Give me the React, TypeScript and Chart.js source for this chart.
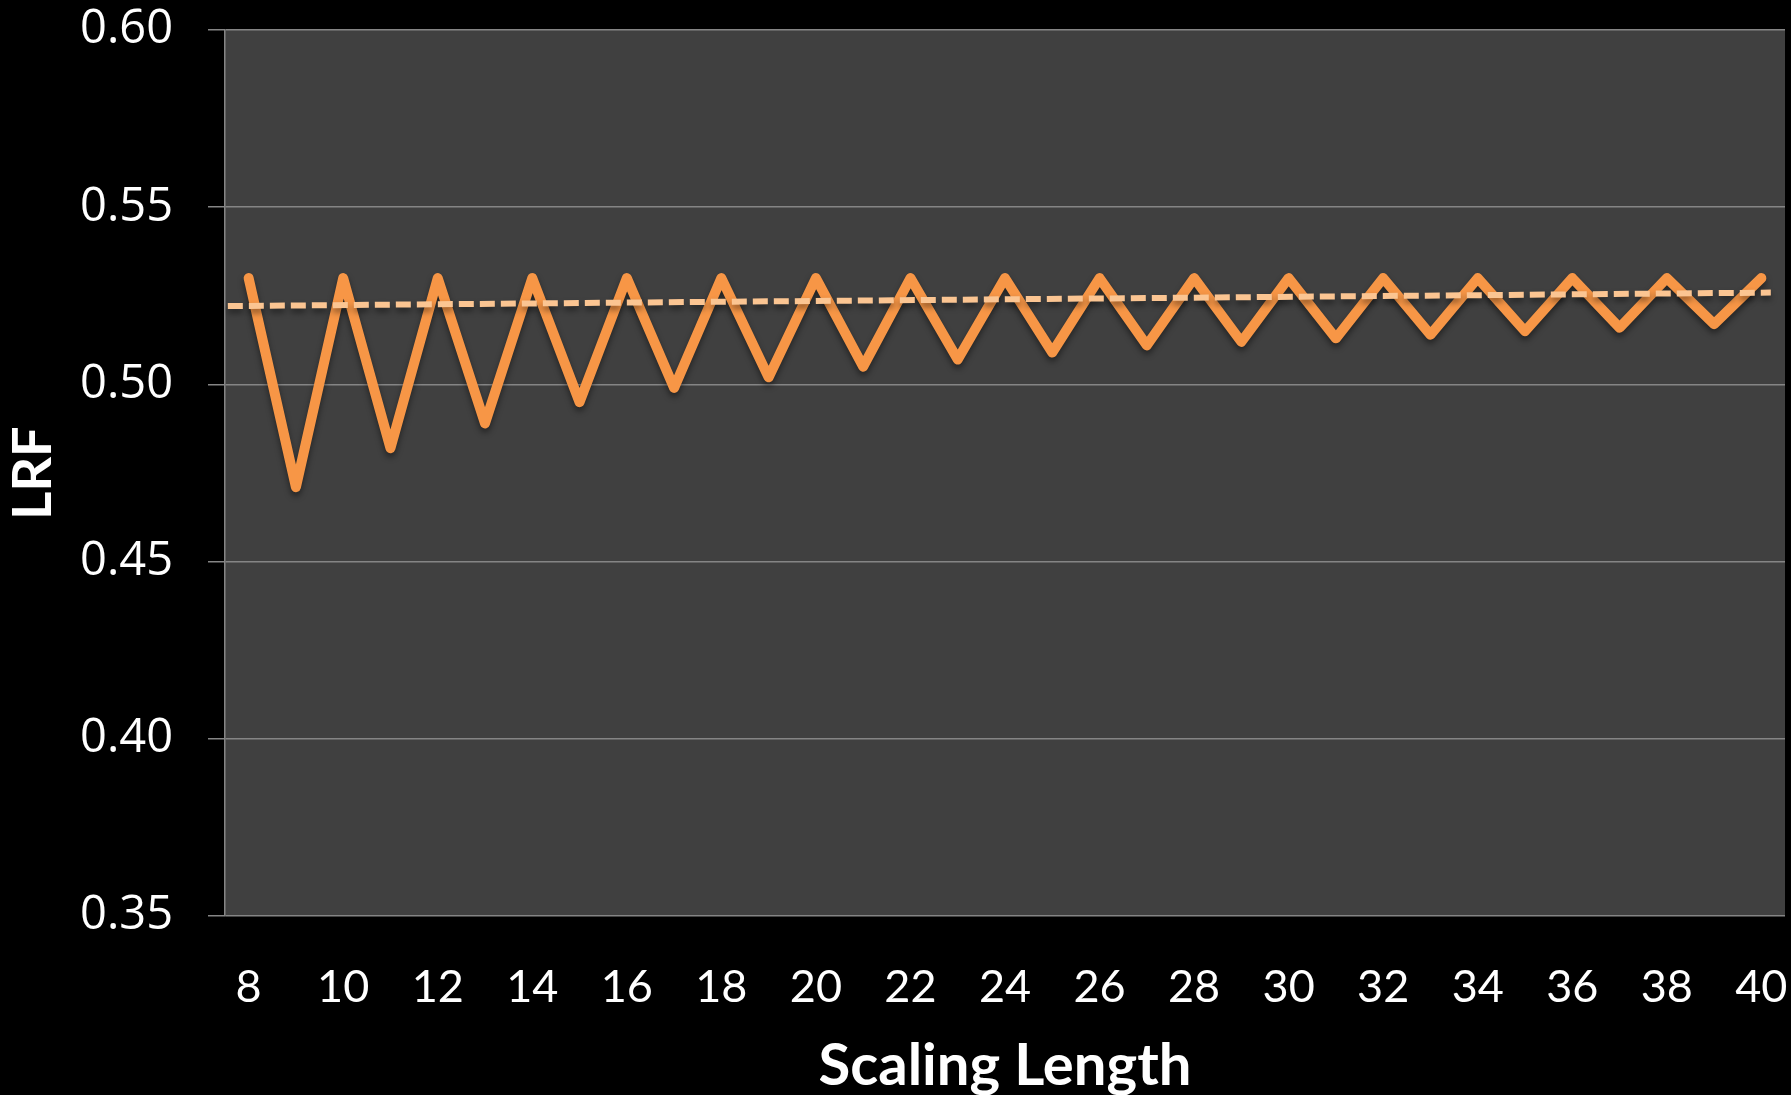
import React, { useEffect, useRef } from "react";
import { Chart, registerables } from "chart.js";

Chart.register(...registerables);

const scalingLengths = [8, 9, 10, 11, 12, 13, 14, 15, 16, 17, 18, 19, 20, 21, 22, 23, 24, 25, 26, 27, 28, 29, 30, 31, 32, 33, 34, 35, 36, 37, 38, 39, 40];
const lrfValues = [
  0.530, 0.471, 0.530, 0.482, 0.530, 0.489, 0.530, 0.495, 0.530, 0.499,
  0.530, 0.502, 0.530, 0.505, 0.530, 0.507, 0.530, 0.509, 0.530, 0.511,
  0.530, 0.512, 0.530, 0.513, 0.530, 0.514, 0.530, 0.515, 0.530, 0.516,
  0.530, 0.517, 0.530,
];
const trendX = [7.56, 40.2];
const trendY = [0.5221, 0.5259];
const xTickValues = [8, 10, 12, 14, 16, 18, 20, 22, 24, 26, 28, 30, 32, 34, 36, 38, 40];
const yTickValues = [0.35, 0.4, 0.45, 0.5, 0.55, 0.6];

const plotBg = {
  id: "plotBg",
  beforeDraw(chart: any) {
    const { ctx, chartArea } = chart;
    ctx.save();
    ctx.fillStyle = "#404040";
    ctx.fillRect(chartArea.left, chartArea.top, chartArea.right - chartArea.left, chartArea.bottom - chartArea.top);
    ctx.restore();
  },
};

const shadow = {
  id: "shadow",
  beforeDatasetDraw(chart: any) {
    const ctx = chart.ctx;
    ctx.save();
    ctx.shadowColor = "rgba(0,0,0,0.45)";
    ctx.shadowBlur = 6;
    ctx.shadowOffsetX = 0;
    ctx.shadowOffsetY = 4;
  },
  afterDatasetDraw(chart: any) {
    chart.ctx.restore();
  },
};

export default function App() {
  const ref = useRef<HTMLCanvasElement | null>(null);
  useEffect(() => {
    if (!ref.current) return;
    const chart = new Chart(ref.current, {
      type: "line",
      data: {
        datasets: [
          {
            label: "Trend",
            data: trendX.map((x, i) => ({ x, y: trendY[i] })),
            borderColor: "#FBC592",
            borderWidth: 6,
            borderDash: [15, 6],
            borderCapStyle: "butt",
            pointRadius: 0,
            tension: 0,
          },
          {
            label: "LRF",
            data: scalingLengths.map((x, i) => ({ x, y: lrfValues[i] })),
            borderColor: "#F79646",
            borderWidth: 10,
            borderCapStyle: "round",
            borderJoinStyle: "round",
            pointRadius: 0,
            tension: 0,
          },
        ],
      },
      options: {
        animation: false,
        responsive: false,
        maintainAspectRatio: false,
        layout: { padding: { top: 30, right: 6, left: 0, bottom: 0 } },
        plugins: { legend: { display: false }, tooltip: { enabled: false } },
        scales: {
          x: {
            type: "linear",
            min: 7.5,
            max: 40.5,
            afterBuildTicks: (axis: any) => {
              axis.ticks = xTickValues.map((v) => ({ value: v }));
            },
            afterFit: (axis: any) => {
              axis.height = 179;
              axis.paddingLeft = 0;
              axis.paddingRight = 0;
            },
            grid: { display: false, drawTicks: false },
            border: { display: false },
            ticks: {
              color: "#FFFFFF",
              padding: 44,
              maxRotation: 0,
              autoSkip: false,
              font: { family: "Lato", size: 45 },
              callback: (v: any) => String(v),
            },
            title: {
              display: true,
              text: "Scaling Length",
              color: "#FFFFFF",
              font: { family: "Lato", size: 58, weight: "bold", lineHeight: 1 },
              padding: { top: 0, bottom: 0 },
            },
          },
          y: {
            type: "linear",
            min: 0.35,
            max: 0.6,
            afterBuildTicks: (axis: any) => {
              axis.ticks = yTickValues.map((v) => ({ value: v }));
            },
            afterFit: (axis: any) => {
              axis.width = 225;
              axis.paddingTop = 0;
              axis.paddingBottom = 0;
            },
            grid: { color: "#858585", lineWidth: 1.5, tickLength: 17, drawTicks: true },
            border: { display: true, color: "#858585", width: 1.5 },
            ticks: {
              color: "#FFFFFF",
              padding: 35,
              font: { family: "Open Sans", size: 47 },
              callback: (v: any) => Number(v).toFixed(2),
            },
            title: {
              display: true,
              text: "LRF",
              color: "#FFFFFF",
              font: { family: "Lato", size: 54, weight: "bold", lineHeight: 1 },
              padding: { top: 7, bottom: 0 },
            },
          },
        },
      },
      plugins: [plotBg, shadow],
    } as any);
    return () => chart.destroy();
  }, []);
  return (
    <div style={{ position: "absolute", left: 0, top: 0, width: 1791, height: 1095, background: "#000000" }}>
      <canvas ref={ref} width={1791} height={1095} style={{ display: "block", width: 1791, height: 1095 }} />
    </div>
  );
}
